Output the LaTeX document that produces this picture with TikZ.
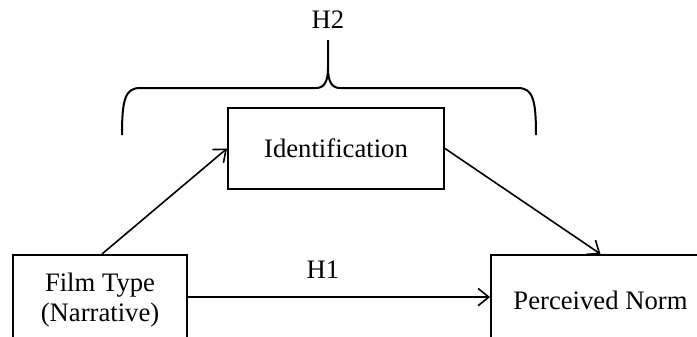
\documentclass[tikz,border=0pt]{standalone}
\usepackage{fontspec}
\setmainfont{Liberation Serif}
\usetikzlibrary{arrows.meta}
\begin{document}
\begin{tikzpicture}[x=0.75pt,y=-0.75pt,
  every node/.style={font=\fontsize{20}{22.5}\selectfont, inner sep=0pt},
  box/.style={draw, line width=1.5pt, align=center},
  conn/.style={line width=1.2pt, -{Straight Barb[length=8pt,width=13pt,line width=1.2pt]}},
  brace/.style={line width=1.5pt}]
\useasboundingbox (0,0) rectangle (697,336);
\node[box, minimum width=174pt*0.75, minimum height=90pt*0.75] (film) at (100,300) {Film Type\\(Narrative)};
\node[box, minimum width=219pt*0.75, minimum height=90pt*0.75] (perc) at (600.5,300) {Perceived Norm};
\node[box, minimum width=216pt*0.75, minimum height=81pt*0.75] (ident) at (336,148.5) {Identification};
\node (h1) at (323,270) {H1};
\node (h2) at (328,20) {H2};
\draw[conn] (film.north) ++(2,0) -- (ident.west);
\draw[conn] (ident.east) -- (perc.north);
\draw[conn] ([yshift=2.2pt]film.east) -- ([yshift=2.2pt]film.east -| perc.west);
\draw[brace] (122,135) .. controls (122,100) and (125,88) .. (140,88) -- (316,88)
  .. controls (324,88) and (328,82) .. (328,68) -- (328,40);
\draw[brace] (536,135) .. controls (536,100) and (533,88) .. (518,88) -- (340,88)
  .. controls (332,88) and (328,82) .. (328,68);
\end{tikzpicture}
\end{document}
